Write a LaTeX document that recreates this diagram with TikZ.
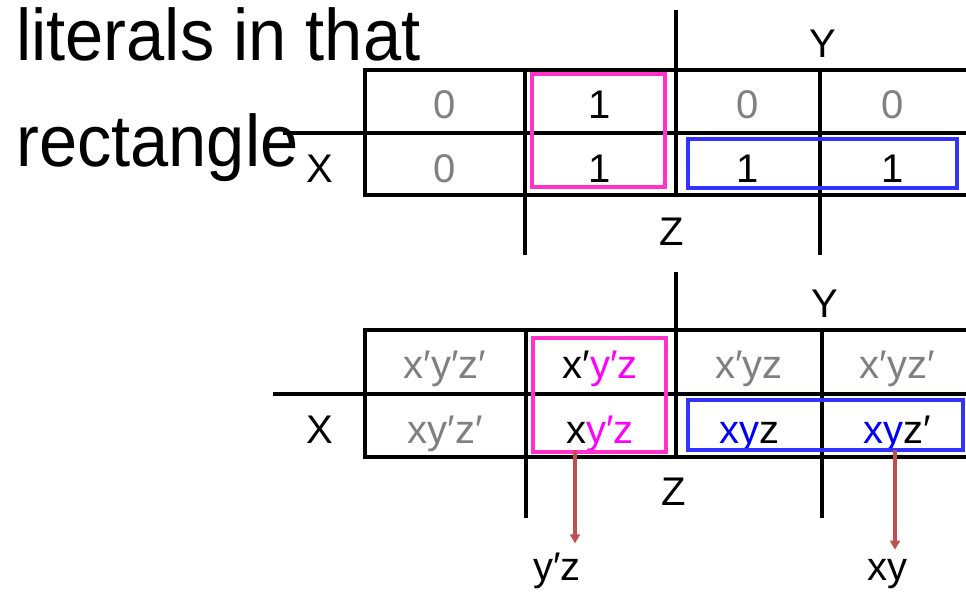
\documentclass[tikz,border=0pt]{standalone}
\usepackage{fontspec}
\setmainfont{Liberation Sans}
\usetikzlibrary{arrows.meta}
\begin{document}
\begin{tikzpicture}[x=1pt, y=-1pt,
    gridline/.style={line width=3.8pt},
    cell/.style={anchor=base, inner sep=0pt, font=\fontsize{40}{40}\selectfont},
    offcell/.style={cell, text=greyText},
    loopbox/.style={line width=4pt},
    headline/.style={anchor=base west, inner sep=0pt, xscale=0.94, transform shape, font=\fontsize{73}{73}\selectfont},
    litarrow/.style={draw=arrowRed, line width=3.5pt, -{Triangle[length=9pt,width=10pt]}, shorten >=9pt}]
    \definecolor{greyText}{HTML}{808080}
    \definecolor{pinkBox}{HTML}{FF33CC}
    \definecolor{blueBox}{HTML}{3333FF}
    \definecolor{pinkText}{HTML}{FF00FF}
    \definecolor{blueText}{HTML}{0000FF}
    \definecolor{arrowRed}{HTML}{C0504D}

    \useasboundingbox (0,0) rectangle (966,592);

    % Heading text
    \node[headline] (head1) at (16,60) {literals in that};
    \node[headline] (head2) at (16,166) {rectangle};

    % Top map: grid
    \draw[gridline] (363,70) -- (966,70);
    \draw[gridline] (283,133) -- (966,133);
    \draw[gridline] (363,195) -- (966,195);
    \draw[gridline] (365,70) -- (365,195);
    \draw[gridline] (525,70) -- (525,255);
    \draw[gridline] (676,10) -- (676,195);
    \draw[gridline] (820,70) -- (820,255);

    % Top map: values
    \node[offcell] (t11) at (445,118) {0};
    \node[cell]    (t12) at (600,118) {1};
    \node[offcell] (t13) at (748,118) {0};
    \node[offcell] (t14) at (893,118) {0};
    \node[offcell] (t21) at (445,182) {0};
    \node[cell]    (t22) at (600,182) {1};
    \node[cell]    (t23) at (748,182) {1};
    \node[cell]    (t24) at (893,182) {1};

    % Top map: variable labels
    \node[cell] (ty) at (823,57) {Y};
    \node[cell] (tx) at (320,182) {X};
    \node[cell] (tz) at (672,245) {Z};

    % Top map: loops
    \draw[loopbox, draw=pinkBox] (532,74) rectangle (665,187);
    \draw[loopbox, draw=blueBox] (688,139) rectangle (957,188);

    % Bottom map: grid
    \draw[gridline] (363,330) -- (966,330);
    \draw[gridline] (273,394) -- (966,394);
    \draw[gridline] (363,457) -- (966,457);
    \draw[gridline] (365,330) -- (365,457);
    \draw[gridline] (526,330) -- (526,518);
    \draw[gridline] (676,272) -- (676,457);
    \draw[gridline] (822,330) -- (822,518);

    % Bottom map: minterms
    \node[offcell] (b11) at (445,378) {x′y′z′};
    \node[cell]    (b12) at (600,378) {x′\textcolor{pinkText}{y′z}};
    \node[offcell] (b13) at (749,378) {x′yz};
    \node[offcell] (b14) at (897,378) {x′yz′};
    \node[offcell] (b21) at (445,443) {xy′z′};
    \node[cell]    (b22) at (600,443) {x\textcolor{pinkText}{y′z}};
    \node[cell]    (b23) at (749,443) {\textcolor{blueText}{xy}z};
    \node[cell]    (b24) at (897,443) {\textcolor{blueText}{xy}z′};

    % Bottom map: variable labels
    \node[cell] (by) at (825,317) {Y};
    \node[cell] (bx) at (320,443) {X};
    \node[cell] (bz) at (674,505) {Z};

    % Bottom map: loops
    \draw[loopbox, draw=pinkBox] (533,338) rectangle (666,452);
    \draw[loopbox, draw=blueBox] (688,400) rectangle (963,450);

    % Product terms read off the loops
    \coordinate (yzfoot) at (575,450);
    \coordinate (xyfoot) at (895,450);
    \node[cell] (yzterm) at (557,580) {y′z};
    \node[cell] (xyterm) at (887,580) {xy};
    \draw[litarrow] (yzfoot) -- (yzfoot |- yzterm.north);
    \draw[litarrow] (xyfoot) -- (xyfoot |- xyterm.north);

\end{tikzpicture}
\end{document}
